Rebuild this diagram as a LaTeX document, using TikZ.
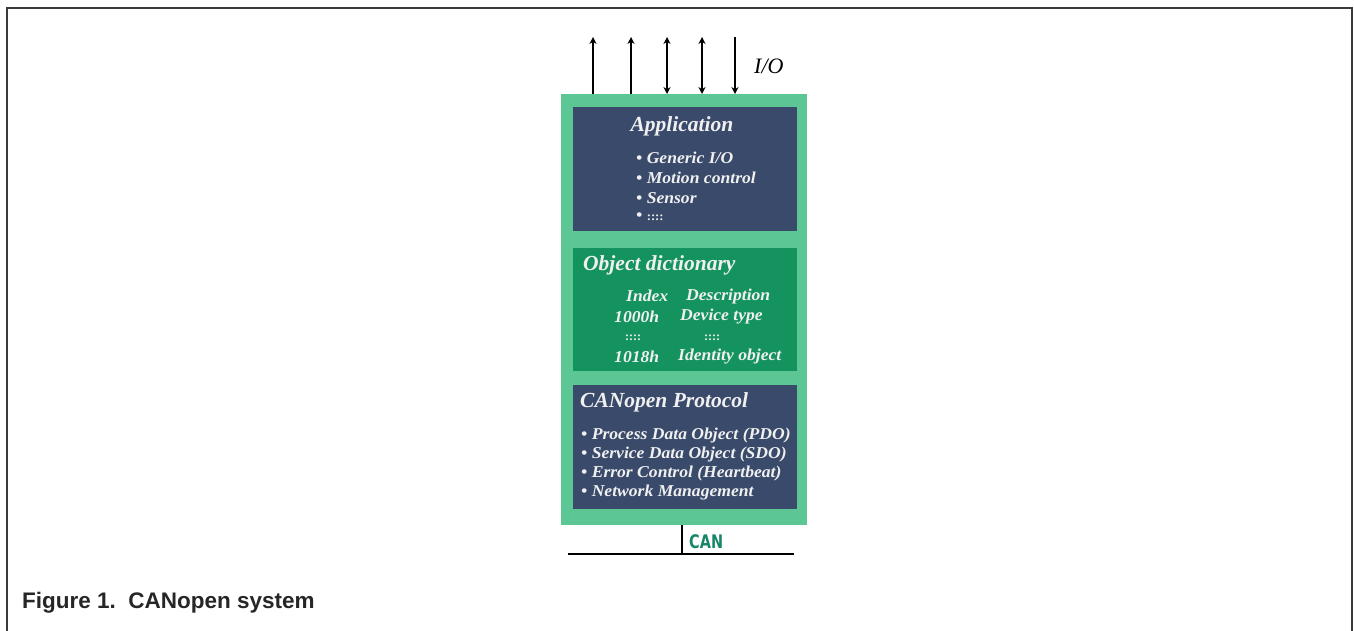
\documentclass[tikz,border=0pt]{standalone}
\usepackage{fontspec}
\setmainfont{Liberation Serif}
\newfontfamily\itemfont[FakeStretch=1.06]{Liberation Serif}
\newfontfamily\capfont{Liberation Sans}
\newfontfamily\canfont{DejaVu Sans}
\usetikzlibrary{arrows.meta}
\definecolor{outergreen}{HTML}{5CC795}
\definecolor{navybox}{HTML}{3A4A6B}
\definecolor{dictgreen}{HTML}{14935F}
\definecolor{cangreen}{HTML}{17866A}
\definecolor{textwhite}{HTML}{F0F0F0}
\definecolor{framegray}{HTML}{3A3A3A}
\tikzset{
  iotip/.tip={Stealth[length=7pt,width=7pt]},
  layerbox/.style={rectangle, inner sep=0pt, anchor=north west, minimum width=224pt},
  titletext/.style={text=textwhite, inner sep=0pt, font=\fontsize{21.5}{24}\selectfont\bfseries\itshape},
  itemtext/.style={text=textwhite, inner sep=0pt, anchor=west, font=\itemfont\fontsize{16.6}{18}\selectfont\bfseries\itshape},
  dotstext/.style={text=textwhite, inner sep=0pt, anchor=west, font=\fontsize{12}{14}\selectfont\bfseries},
  iowire/.style={line width=2pt, draw=black},
  buswire/.style={line width=2.6pt, draw=black},
}
\begin{document}
\begin{tikzpicture}[x=1pt,y=-1pt]
\useasboundingbox (0,0) rectangle (1354,630);
% frame
\draw[framegray, line width=2.6pt] (7,640) -- (7,8) -- (1352,8) -- (1352,640);

% outer green
\node[rectangle, inner sep=0pt, anchor=north west, fill=outergreen, minimum width=246pt, minimum height=431pt] (outer) at (561,94) {};
% layers
\node[layerbox, fill=navybox, minimum height=124pt] (app) at (573,107) {};
\node[layerbox, fill=dictgreen, minimum height=123pt] (dict) at (573,248) {};
\node[layerbox, fill=navybox, minimum height=124pt] (proto) at (573,385) {};

% I/O arrows
\coordinate (t1) at (593,37);
\coordinate (t2) at (631,37);
\coordinate (t3) at (667,37);
\coordinate (t4) at (702,37);
\coordinate (t5) at (735,37);
\draw[iowire, -iotip] (outer.north -| t1) -- (t1);
\draw[iowire, -iotip] (outer.north -| t2) -- (t2);
\draw[iowire, iotip-iotip] (outer.north -| t3) -- (t3);
\draw[iowire, iotip-iotip] (outer.north -| t4) -- (t4);
\draw[iowire, iotip-] (outer.north -| t5) -- (t5);
\node[text=black, inner sep=0pt, anchor=west, font=\fontsize{22}{24}\selectfont\itshape] (io) at (754,66) {I/O};

% Application
\node[titletext] (apptitle) at (682,126) {Application};
\node[itemtext] (a1) at (636,158) {\textbullet\ Generic I/O};
\node[itemtext] (a2) at (636,178) {\textbullet\ Motion control};
\node[itemtext] (a3) at (636,198) {\textbullet\ Sensor};
\node[itemtext] (a4) at (636,217) {\textbullet\ {\fontsize{12}{14}\selectfont\upshape ::::}};

% Object dictionary
\node[titletext, anchor=west] (dicttitle) at (583,265) {Object dictionary};
\node[itemtext] (d1) at (626,296) {Index};
\node[itemtext] (d2) at (686,296) {Description};
\node[itemtext] (d3) at (614,317) {1000h};
\node[itemtext] (d4) at (680,317) {Device type};
\node[dotstext] (d5) at (625,338) {::::};
\node[dotstext] (d6) at (704,338) {::::};
\node[itemtext] (d7) at (614,357) {1018h};
\node[itemtext] (d8) at (678,357) {Identity object};

% CANopen protocol
\node[titletext, anchor=west] (prototitle) at (580,402) {CANopen Protocol};
\node[itemtext] (p1) at (581,435) {\textbullet\ Process Data Object (PDO)};
\node[itemtext] (p2) at (581,454) {\textbullet\ Service Data Object (SDO)};
\node[itemtext] (p3) at (581,473) {\textbullet\ Error Control (Heartbeat)};
\node[itemtext] (p4) at (581,492) {\textbullet\ Network Management};

% CAN bus
\coordinate (tap) at (682,554);
\coordinate (busL) at (568,554);
\coordinate (busR) at (794,554);
\draw[buswire] (outer.south -| tap) -- (tap);
\draw[buswire] (busL) -- (busR);
\node[text=cangreen, inner sep=0pt, anchor=west, font=\canfont\fontsize{17}{18}\selectfont\bfseries] (can) at (689,542) {\scalebox{0.85}[1.1]{CAN}};

% caption
\node[text=black!85, inner sep=0pt, anchor=west, font=\capfont\fontsize{22.5}{26}\selectfont\bfseries] (caption) at (22,603) {Figure 1.\ \ CANopen system};
\end{tikzpicture}
\end{document}
